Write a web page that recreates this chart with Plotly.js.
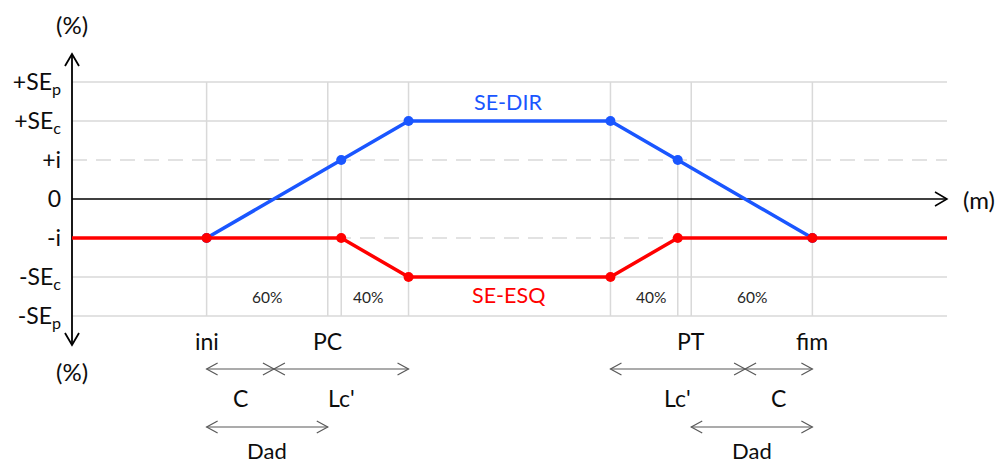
<!DOCTYPE html>
<html>
<head>
<meta charset="utf-8">
<script src="https://cdn.plot.ly/plotly-3.0.1.min.js"></script>
<style>html,body{margin:0;padding:0;background:#fff;}#chart{width:999px;height:466px;}</style>
</head>
<body>
<div id="chart"></div>
<script>
// ---- data ----
const stations = [0, 10, 20, 25, 40, 45, 55, 65];
const seDir = [null, -1, 1, 2, 2, 1, -1, null];
const seEsq = [-1, -1, -1, -2, -2, -1, -1, -1];
const yTickVals = [3, 2, 1, 0, -1, -2, -3];
const yTickText = ['+SE<sub>p</sub>', '+SE<sub>c</sub>', '+i', '0', '-i', '-SE<sub>c</sub>', '-SE<sub>p</sub>'];
const gridFull = [10, 19, 25, 40, 46, 55];
const gridPartial = [20, 45];
const pointLabels = ['ini', 'PC', 'PT', 'fim'];
const pointLabelX = [10, 19, 46, 55];
const pctText = ['60%', '40%', '40%', '60%'];
const pctX = [14.5, 22, 43, 50.5];
const dim1Start = [10, 15, 40, 50];
const dim1End = [15, 25, 50, 55];
const dim1Label = ['C', "Lc'", "Lc'", 'C'];
const dim2Start = [10, 46];
const dim2End = [19, 55];
const dim2Label = ['Dad', 'Dad'];

// ---- geometry helpers ----
const W = 999, H = 466, L = 72;
const kx = 875 / 65;          // px per station unit
const ky = 39;                // px per slope unit
const y0px = 199;
const xMin = -L / kx, xMax = (W - L) / kx;
const yTop = y0px / ky, yBot = -(H - y0px) / ky;
const py = p => (y0px - p) / ky;   // pixel row -> data y
const px = p => (p - L) / kx;      // pixel col -> data x

const FONT = 'Lato, "Open Sans", sans-serif';
const blue = '#1a56ff', red = '#ff0000', grid = '#d9d9d9', dimc = '#595959', ink = '#0d0d0d';

const shapes = [];
const annotations = [];

function line(x0, y0, x1, y1, color, width, dash) {
  shapes.push({type: 'line', xref: 'x', yref: 'y', x0, y0, x1, y1, layer: 'below',
    line: {color, width, dash: dash || 'solid'}});
}
function head(x, y, dir, color, width, len, half) {
  let p;
  if (dir === 'right') p = `M${-len},${half} L0,0 L${-len},${-half}`;
  else if (dir === 'left') p = `M${len},${half} L0,0 L${len},${-half}`;
  else if (dir === 'up') p = `M${-half},${-len} L0,0 L${half},${-len}`;
  else p = `M${-half},${len} L0,0 L${half},${len}`;
  shapes.push({type: 'path', xref: 'x', yref: 'y', xsizemode: 'pixel', ysizemode: 'pixel',
    xanchor: x, yanchor: y, path: p, layer: 'below', line: {color, width}});
}
function text(x, y, t, size, color) {
  annotations.push({x, y, xref: 'x', yref: 'y', text: t, showarrow: false,
    xanchor: 'center', yanchor: 'middle', font: {family: FONT, size, color}});
}

// horizontal grid
yTickVals.forEach(v => {
  if (v === 0) return;
  const dashed = Math.abs(v) === 1;
  line(0, v, 65, v, grid, 1.5, dashed ? '15px,9px' : 'solid');
});
// vertical grid
gridFull.forEach(x => line(x, 3, x, -3, grid, 1.5));
gridPartial.forEach(x => line(x, 1, x, -3, grid, 1.5));
// x axis with arrow
line(0, 0, 65, 0, '#000', 1.5);
head(65, 0, 'right', '#000', 1.5, 12, 7);
// y axis with arrows
const yArrTop = py(54), yArrBot = py(345);
line(0, yArrTop, 0, yArrBot, '#000', 1.8);
head(0, yArrTop, 'up', '#000', 1.8, 12, 7);
head(0, yArrBot, 'down', '#000', 1.8, 12, 7);

// dimension arrows
const row1 = py(369), row2 = py(427);
dim1Start.forEach((s, i) => {
  const e = dim1End[i];
  line(s, row1, e, row1, dimc, 1.2);
  head(s, row1, 'left', dimc, 1.2, 11, 6);
  head(e, row1, 'right', dimc, 1.2, 11, 6);
  text((s + e) / 2, py(398), dim1Label[i], 23, ink);
});
dim2Start.forEach((s, i) => {
  const e = dim2End[i];
  line(s, row2, e, row2, dimc, 1.2);
  head(s, row2, 'left', dimc, 1.2, 11, 6);
  head(e, row2, 'right', dimc, 1.2, 11, 6);
  text((s + e) / 2, py(450), dim2Label[i], 22, ink);
});

// labels
pointLabels.forEach((t, i) => text(pointLabelX[i], py(341), t, 23, ink));
pctText.forEach((t, i) => text(pctX[i], py(297), t, 15.5, '#262626'));
text(px(508), py(102), 'SE-DIR', 21.5, blue);
text(px(508), py(295), 'SE-ESQ', 21.5, red);
text(0, py(24), '(%)', 24, ink);
text(0, py(371), '(%)', 24, ink);
text(px(979), 0, '(m)', 24, ink);

const traces = [
  {x: stations, y: seDir, type: 'scatter', mode: 'lines+markers', connectgaps: false,
   line: {color: blue, width: 3.5}, marker: {color: blue, size: 10, opacity: 1, line: {width: 0}}, hoverinfo: 'skip'},
  {x: stations, y: seEsq, type: 'scatter', mode: 'lines+markers',
   line: {color: red, width: 3.5},
   marker: {color: red, opacity: 1, line: {width: 0}, size: stations.map((s, i) => (i === 0 || i === stations.length - 1) ? 0 : 10)},
   hoverinfo: 'skip'}
];

const layout = {
  width: W, height: H,
  margin: {l: 0, r: 0, t: 0, b: 0, pad: 0},
  paper_bgcolor: '#fff', plot_bgcolor: '#fff',
  showlegend: false,
  xaxis: {range: [xMin, xMax], showgrid: false, zeroline: false, showline: false, showticklabels: false, ticks: '', fixedrange: true},
  yaxis: {range: [yBot, yTop], anchor: 'free', position: L / W, side: 'left',
    showgrid: false, zeroline: false, showline: false, ticks: '',
    tickmode: 'array', tickvals: yTickVals, ticktext: yTickText, ticklabelstandoff: 11,
    tickfont: {family: FONT, size: 23, color: ink}, fixedrange: true},
  shapes, annotations
};

Plotly.newPlot('chart', traces, layout, {staticPlot: true, displayModeBar: false});
</script>
</body>
</html>
